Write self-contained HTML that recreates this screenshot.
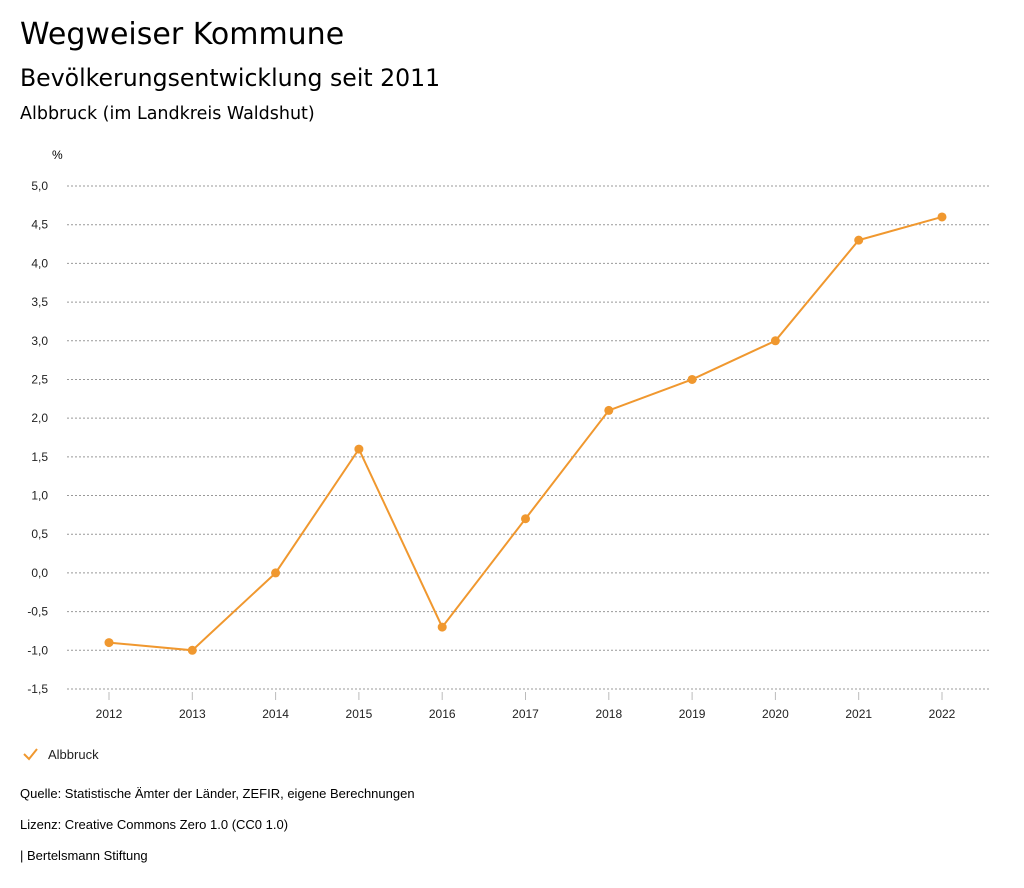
<!DOCTYPE html>
<html><head><meta charset="utf-8"><style>
body{margin:0;background:#fff;font-family:"Liberation Sans",sans-serif;color:#000}
.t{position:absolute;left:20px;white-space:nowrap}
.d{font-family:"DejaVu Sans",sans-serif}
</style></head><body>
<div style="position:relative;width:1024px;height:888px;overflow:hidden">
<div class="t d" style="top:17px;font-size:30px">Wegweiser Kommune</div>
<div class="t d" style="top:64px;font-size:23.6px">Bevölkerungsentwicklung seit 2011</div>
<div class="t d" style="top:104px;font-size:17.5px">Albbruck (im Landkreis Waldshut)</div>
<svg id="c" width="1024" height="888" style="position:absolute;left:0;top:0"></svg>
<div class="t" style="top:786px;font-size:13px">Quelle: Statistische Ämter der Länder, ZEFIR, eigene Berechnungen</div>
<div class="t" style="top:817px;font-size:13px">Lizenz: Creative Commons Zero 1.0 (CC0 1.0)</div>
<div class="t" style="top:848px;font-size:13px">| Bertelsmann Stiftung</div>
</div>
<script>
const years=["2012","2013","2014","2015","2016","2017","2018","2019","2020","2021","2022"];
const values=[-0.9,-1.0,0.0,1.6,-0.7,0.7,2.1,2.5,3.0,4.3,4.6];
const yTicks=[5.0,4.5,4.0,3.5,3.0,2.5,2.0,1.5,1.0,0.5,0.0,-0.5,-1.0,-1.5];
const NS="http://www.w3.org/2000/svg";
const svg=document.getElementById('c');
const yScale=v=>186+(5.0-v)*(689-186)/6.5;
const xScale=i=>109+i*(942-109)/(years.length-1);
function mk(tag,attrs,parent){const e=document.createElementNS(NS,tag);for(const k in attrs)e.setAttribute(k,attrs[k]);(parent||svg).appendChild(e);return e;}
const unit=mk('text',{x:52,y:159,'font-size':12,'font-family':'Liberation Sans'});unit.textContent='%';


yTicks.forEach(v=>{
  const y=yScale(v);
  const g=mk('line',{x1:67,x2:990,y1:y,y2:y,stroke:'#999','stroke-dasharray':'2,2','stroke-width':1});
  
  
  const t=mk('text',{x:48,y:y+4,'text-anchor':'end','font-size':12,'font-family':'Liberation Sans',fill:'#222'});
  t.textContent=v.toFixed(1).replace('.',',');
  
  
});
years.forEach((yr,i)=>{
  const x=xScale(i);
  const tk=mk('line',{x1:x,x2:x,y1:692,y2:700,stroke:'#bbb','stroke-width':1});
  
  
  const t=mk('text',{x:x,y:718,'text-anchor':'middle','font-size':12,'font-family':'Liberation Sans',fill:'#222'});
  t.textContent=yr;
  
  
});
const pts=values.map((v,i)=>xScale(i)+','+yScale(v)).join(' ');
const line=mk('polyline',{points:pts,fill:'none',stroke:'#f0982f','stroke-width':2});


values.forEach((v,i)=>{
  const c=mk('circle',{cx:xScale(i),cy:yScale(v),r:4.5,fill:'#f0982f'});
  
  
});
const chk=mk('polyline',{points:'24,754 29,759 37,749',fill:'none',stroke:'#f0982f','stroke-width':2});


const lt=mk('text',{x:48,y:759,'font-size':13,'font-family':'Liberation Sans',fill:'#222'});
lt.textContent='Albbruck';


</script>
</body></html>
